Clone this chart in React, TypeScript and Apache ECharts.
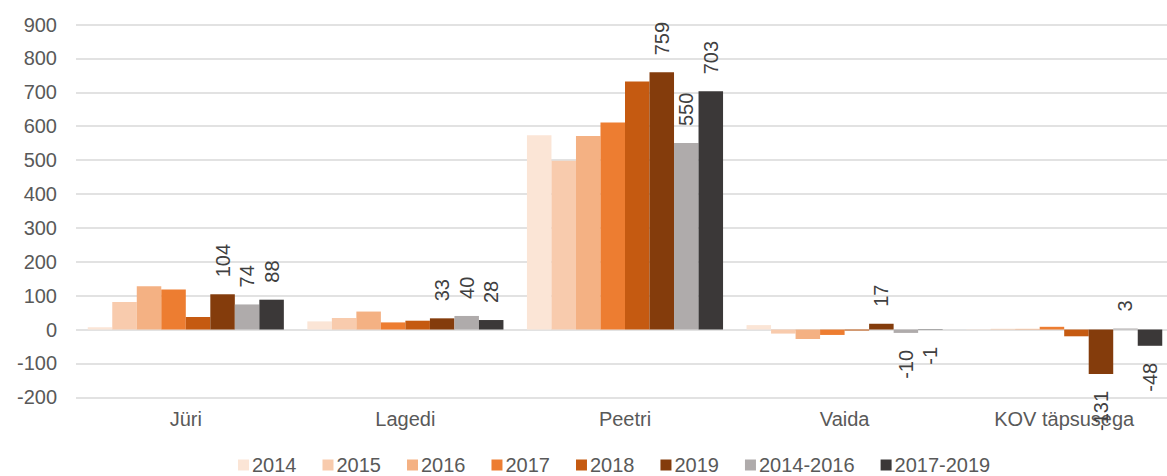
import React, { useEffect, useRef } from "react";
import * as echarts from "echarts";

const categories = ["Jüri", "Lagedi", "Peetri", "Vaida", "KOV täpsusega"];
const seriesNames = ["2014", "2015", "2016", "2017", "2018", "2019", "2014-2016", "2017-2019"];
const v2014 = [7, 24, 573, 13, 1];
const v2015 = [81, 34, 498, -12, 2];
const v2016 = [128, 53, 571, -28, 2];
const v2017 = [118, 21, 611, -16, 8];
const v2018 = [37, 26, 732, -3, -20];
const v2019 = [104, 33, 759, 17, -131];
const v2014_2016 = [74, 40, 550, -10, 3];
const v2017_2019 = [88, 28, 703, -1, -48];
const yTicks = { min: -200, max: 900, interval: 100 };

const allValues = [v2014, v2015, v2016, v2017, v2018, v2019, v2014_2016, v2017_2019];
const colors = ["#FBE5D6", "#F8CBAD", "#F4B183", "#ED7D31", "#C55A11", "#843C0C", "#AFABAB", "#3B3838"];
const labelled = [false, false, false, false, false, true, true, true];

const FONT = "'Liberation Sans', Arial, sans-serif";

export default function App() {
  const ref = useRef<HTMLDivElement>(null);
  useEffect(() => {
    if (!ref.current) return;
    const chart = echarts.init(ref.current, undefined, { renderer: "svg" });
    const series = seriesNames.map((name, i) => ({
      name,
      type: "bar",
      barGap: "0%",
      barCategoryGap: "10.7%",
      itemStyle: { color: colors[i] },
      data: allValues[i].map((v) =>
        labelled[i]
          ? {
              value: v,
              label: {
                show: true,
                rotate: 90,
                position: v >= 0 ? "top" : "bottom",
                align: v >= 0 ? "left" : "right",
                verticalAlign: "middle",
                distance: 17,
                fontSize: 20,
                fontFamily: FONT,
                color: "#404040",
              },
            }
          : { value: v }
      ),
    }));
    chart.setOption({
      animation: false,
      textStyle: { fontFamily: FONT },
      grid: {
        left: 76,
        width: 1098,
        top: 24.5,
        bottom: 78.7,
        containLabel: false,
        outerBoundsMode: "none",
      },
      legend: {
        data: seriesNames,
        left: 238,
        top: 455,
        padding: 0,
        icon: "rect",
        itemWidth: 11,
        itemHeight: 11,
        itemGap: 26,
        textStyle: {
          fontSize: 20,
          lineHeight: 20,
          color: "#595959",
          fontFamily: FONT,
          padding: [0, 0, 0, -2],
        },
      },
      xAxis: {
        type: "category",
        data: categories,
        axisLine: { show: false },
        axisTick: { show: false },
        axisLabel: { fontSize: 20, color: "#595959", margin: 12, fontFamily: FONT },
      },
      yAxis: {
        type: "value",
        min: yTicks.min,
        max: yTicks.max,
        interval: yTicks.interval,
        axisLine: { show: false },
        axisTick: { show: false },
        axisLabel: { fontSize: 20, color: "#595959", margin: 19, fontFamily: FONT },
        splitLine: { lineStyle: { color: "#D9D9D9", width: 1.5 } },
      },
      series,
    });
    return () => chart.dispose();
  }, []);
  return (
    <div
      ref={ref}
      style={{ position: "fixed", left: 0, top: 0, width: 1167, height: 476, background: "#fff" }}
    />
  );
}
